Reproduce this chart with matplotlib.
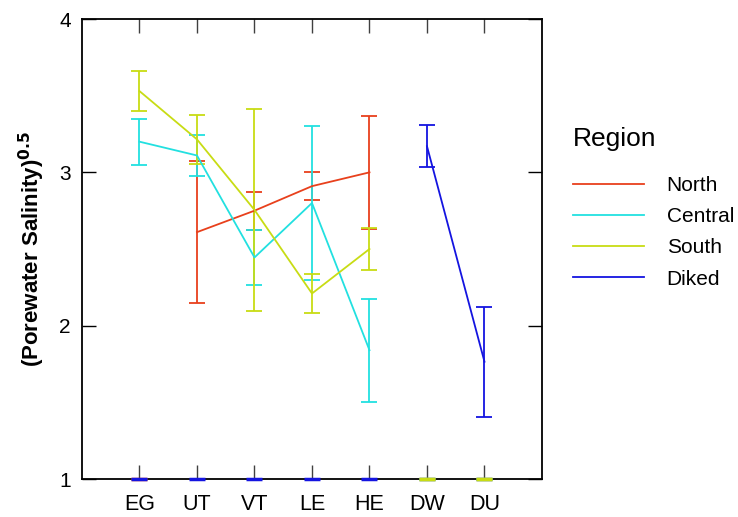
import numpy as np
import matplotlib.pyplot as plt
from matplotlib.lines import Line2D

plt.rcParams['font.family'] = ['Liberation Sans', 'DejaVu Sans']

sites = ['EG', 'UT', 'VT', 'LE', 'HE', 'DW', 'DU']
nan = np.nan

# mean and error (sqrt salinity) per site, nan where a region has no site
north_mean = [nan, 2.61, 2.75, 2.91, 3.00, nan, nan]
north_err = [nan, 0.465, 0.125, 0.09, 0.37, nan, nan]
central_mean = [3.20, 3.11, 2.445, 2.80, 1.84, nan, nan]
central_err = [0.15, 0.135, 0.18, 0.505, 0.335, nan, nan]
south_mean = [3.53, 3.215, 2.755, 2.21, 2.50, nan, nan]
south_err = [0.13, 0.16, 0.657, 0.125, 0.138, nan, nan]
diked_mean = [nan, nan, nan, nan, nan, 3.17, 1.765]
diked_err = [nan, nan, nan, nan, nan, 0.137, 0.36]

series = [
    ('North', north_mean, north_err, '#e8401c'),
    ('Central', central_mean, central_err, '#22e0e0'),
    ('South', south_mean, south_err, '#c8dc14'),
    ('Diked', diked_mean, diked_err, '#1414e0'),
]

fig = plt.figure(figsize=(7.38, 5.17), dpi=100)
ax = fig.add_axes([0.1111, 0.0735, 0.6233, 0.8897])

x = np.arange(1, len(sites) + 1)
ymin = 1
handles = []
for name, m, e, c in series:
    m = np.array(m)
    e = np.array(e)
    ax.errorbar(x, m, yerr=e, color=c, lw=1.3, elinewidth=1.3,
                capsize=5.5, capthick=1.3)
    # sites without data sit on the floor of the axis
    miss = np.isnan(m)
    ax.plot(x[miss], np.full(miss.sum(), ymin), ls='none', marker='_',
            ms=11, mew=2.5, color=c, clip_on=False, zorder=5)
    handles.append(Line2D([], [], color=c, lw=1.3, label=name))

ax.set_xlim(0, 8)
ax.set_ylim(1, 4)
ax.set_xticks(x)
ax.set_xticklabels(sites)
ax.set_yticks([1, 2, 3, 4])
ax.tick_params(axis='both', direction='in', length=10, width=1,
               labelsize=15, color='#404040')
ax.tick_params(axis='x', top=True, pad=11, labelsize=15.5)
ax.tick_params(axis='y', right=True, pad=8, color='black')
for s in ax.spines.values():
    s.set_linewidth(1.3)

ax.set_ylabel(r'(Porewater Salinity)$^{\mathbf{0.5}}$', fontsize=16,
              fontweight='bold', labelpad=9)

leg = ax.legend(handles=handles, loc='upper left', bbox_to_anchor=(0.751, 0.79),
                bbox_transform=fig.transFigure, frameon=False, fontsize=15,
                title='Region', title_fontsize=19, alignment='left',
                handlelength=3.4, handletextpad=1.1, labelspacing=0.58)
leg._legend_box.sep = 18

fig.savefig('out.png', dpi=100)
